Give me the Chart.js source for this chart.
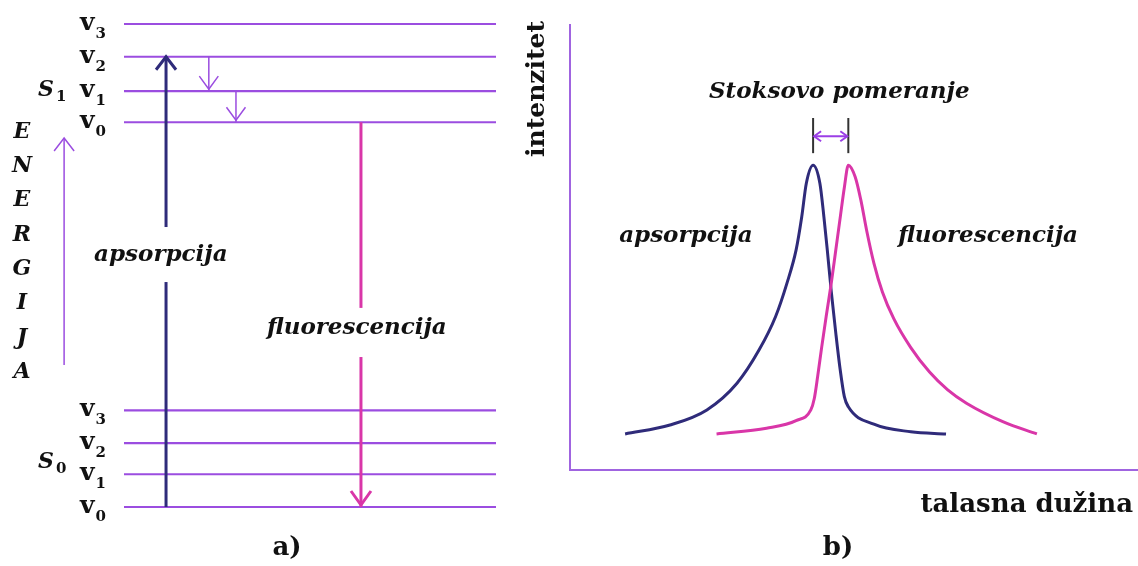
<!DOCTYPE html>
<html>
<head>
<meta charset="utf-8">
<script src="https://cdn.jsdelivr.net/npm/chart.js@4"></script>
<style>
  body { margin: 0; background: #fff; }
  #wrap { position: relative; width: 1138px; height: 566px; overflow: hidden; }
  canvas { position: absolute; top: 0; }
  #levels { left: 0; }
  #spectra { left: 500px; }
</style>
</head>
<body>
<div id="wrap">
  <canvas id="levels" width="510" height="566"></canvas>
  <canvas id="spectra" width="638" height="566"></canvas>
</div>
<script>
// ---- a) energy levels (arbitrary energy units) ----
const levelsS0 = [0, 1, 1.95, 2.95];
const levelsS1 = [11.75, 12.7, 13.75, 14.75];
const vibNames = ['0', '1', '2', '3'];
const energyLetters = ['E', 'N', 'E', 'R', 'G', 'I', 'J', 'A'];
// transitions: [from state, from v, to state, to v]
const absorption = [0, 0, 1, 2];
const relaxation = [[1, 2, 1, 1], [1, 1, 1, 0]];
const fluorescence = [1, 0, 0, 0];

// ---- b) spectra (wavelength / intensity, arbitrary units) ----
const absX = [9.7, 17.6, 24.1, 29.4, 33.3, 36.2, 38.2, 39.8, 40.8, 41.6, 42.8, 44.0, 44.7, 45.3, 46.0, 46.8, 47.5, 48.3, 49.0, 53.5, 60.0, 66.2];
const absY = [8.1, 10.1, 13.5, 19.5, 27.0, 34.5, 42.0, 49.4, 56.9, 64.4, 68.5, 64.4, 56.9, 49.4, 40.1, 30.7, 23.2, 16.5, 14.2, 10.3, 8.6, 8.1];
const fluX = [25.8, 34.6, 39.8, 42.4, 43.0, 43.6, 44.3, 45.1, 46.0, 46.8, 47.6, 48.3, 49.0, 50.2, 51.2, 52.2, 53.5, 55.0, 57.0, 60.0, 63.3, 66.5, 69.8, 76.3, 82.2];
const fluY = [8.1, 9.4, 11.1, 13.5, 16.0, 21.0, 27.5, 34.5, 42.0, 49.5, 57.0, 63.5, 68.5, 65.9, 60.7, 54.0, 46.5, 40.0, 34.0, 27.5, 22.0, 18.0, 15.0, 10.8, 8.1];

const PURPLE = '#9b4de0';
const AXIS = '#a064e0';
const NAVY = '#2f2b7a';
const MAGENTA = '#d936a8';
const INK = '#111';
const SERIF = '"DejaVu Serif", "Liberation Serif", serif';

const lvl = (s, v) => (s ? levelsS1[v] : levelsS0[v]);

// x positions of arrows/labels in diagram units (0..100 across the level lines)
const pos = { absX: 11.3, relaxX: [22.8, 30.1], fluX: 63.7, energyX: -16.1, energyFrom: 4.34, energyTo: 11.27 };

function chevron(ctx, x, y, dir, half, len) {
  // dir = 1: pointing down, -1: pointing up
  ctx.beginPath();
  ctx.moveTo(x - half, y - dir * len);
  ctx.lineTo(x, y);
  ctx.lineTo(x + half, y - dir * len);
  ctx.stroke();
}

const arrowSet = (x, y0, y1, color, w) => ({
  data: [{ x: x, y: y0 }, { x: x, y: y1 }],
  borderColor: color, borderWidth: w, clip: false
});

const levelDatasets = [
  arrowSet(pos.absX, lvl(absorption[0], absorption[1]), lvl(absorption[2], absorption[3]), NAVY, 3),
  arrowSet(pos.fluX, lvl(fluorescence[0], fluorescence[1]), lvl(fluorescence[2], fluorescence[3]), MAGENTA, 3),
  ...relaxation.map((r, i) => arrowSet(pos.relaxX[i], lvl(r[0], r[1]), lvl(r[2], r[3]), PURPLE, 1.5)),
  arrowSet(pos.energyX, pos.energyFrom, pos.energyTo, PURPLE, 1.5),
  ...[...levelsS0, ...levelsS1].map(e => ({
    data: [{ x: 0, y: e }, { x: 100, y: e }], borderColor: PURPLE, borderWidth: 2.2, clip: false
  }))
];

const levelsPlugin = {
  id: 'levelsDecor',
  afterDatasetsDraw(chart) {
    const { ctx, scales: { x, y } } = chart;
    const px = v => x.getPixelForValue(v), py = v => y.getPixelForValue(v);
    ctx.save();
    ctx.lineJoin = 'miter';
    ctx.lineCap = 'butt';

    // arrow heads
    ctx.strokeStyle = NAVY; ctx.lineWidth = 3;
    chevron(ctx, px(pos.absX), py(lvl(absorption[2], absorption[3])), -1, 10, 13);
    ctx.strokeStyle = MAGENTA;
    chevron(ctx, px(pos.fluX), py(lvl(fluorescence[2], fluorescence[3])) - 2, 1, 10, 14);
    ctx.strokeStyle = PURPLE; ctx.lineWidth = 1.5;
    relaxation.forEach((r, i) => chevron(ctx, px(pos.relaxX[i]), py(lvl(r[2], r[3])) - 2, 1, 9.5, 13));
    chevron(ctx, px(pos.energyX), py(pos.energyTo), -1, 10, 13);

    // labels cutting through the vertical arrows
    ctx.font = 'bold italic 23px ' + SERIF;
    ctx.textAlign = 'center'; ctx.textBaseline = 'middle';
    ctx.fillStyle = '#fff';
    ctx.fillRect(px(pos.absX) - 4, py(8.55), 8, py(6.87) - py(8.55));
    ctx.fillRect(px(pos.fluX) - 4, py(6.08), 8, py(4.58) - py(6.08));
    ctx.fillStyle = INK;
    ctx.fillText('apsorpcija', px(9.9), py(7.7));
    ctx.fillText('fluorescencija', px(62.6), py(5.47));

    // vibrational level names
    [levelsS0, levelsS1].forEach(levels => levels.forEach((e, i) => {
      const yy = py(e);
      ctx.textAlign = 'right'; ctx.textBaseline = 'alphabetic';
      ctx.font = 'bold 15px ' + SERIF;
      ctx.fillText(vibNames[i], 106, yy + 14);
      const w = ctx.measureText(vibNames[i]).width;
      ctx.font = 'bold 25px ' + SERIF;
      ctx.fillText('v', 106 - w - 1, yy + 6);
    }));

    // electronic state names
    [[0, py(levelsS0[1]) - 6], [1, py(levelsS1[1]) + 5]].forEach(([s, base]) => {
      ctx.textAlign = 'left';
      ctx.font = 'bold italic 22px ' + SERIF;
      ctx.fillText('S', 38, base);
      const w = ctx.measureText('S').width;
      ctx.font = 'bold 15px ' + SERIF;
      ctx.fillText(String(s), 38 + w + 2, base + 5);
    });

    // ENERGIJA
    ctx.font = 'bold italic 22px ' + SERIF;
    ctx.textAlign = 'center'; ctx.textBaseline = 'middle';
    energyLetters.forEach((ch, i) => ctx.fillText(ch, 22, 132 + i * 34.3));

    ctx.font = 'bold 26px ' + SERIF;
    ctx.fillText('a)', 287, 548);
    ctx.restore();
  }
};

new Chart(document.getElementById('levels'), {
  type: 'scatter',
  data: { datasets: levelDatasets },
  options: {
    responsive: false,
    animation: false,
    showLine: true,
    elements: { point: { radius: 0, hoverRadius: 0 } },
    layout: { padding: { left: 124, right: 14, top: 24, bottom: 59 } },
    plugins: { legend: { display: false }, tooltip: { enabled: false } },
    scales: {
      x: { type: 'linear', display: false, min: 0, max: 100 },
      y: { type: 'linear', display: false, min: 0, max: 14.75 }
    }
  },
  plugins: [levelsPlugin]
});

// ---- b) ----
const peakX = (xs, ys) => xs[ys.indexOf(Math.max(...ys))];

const spectraPlugin = {
  id: 'spectraDecor',
  afterDatasetsDraw(chart) {
    const { ctx, scales: { x, y } } = chart;
    const px = v => x.getPixelForValue(v), py = v => y.getPixelForValue(v);
    ctx.save();
    ctx.fillStyle = INK;

    // Stokes shift marker
    const a = px(peakX(absX, absY)), f = px(peakX(fluX, fluY));
    ctx.strokeStyle = '#333'; ctx.lineWidth = 2;
    [a, f].forEach(xx => {
      ctx.beginPath(); ctx.moveTo(xx, py(79.1)); ctx.lineTo(xx, py(71.2)); ctx.stroke();
    });
    const ya = py(75);
    ctx.strokeStyle = '#9b3fe6'; ctx.lineWidth = 2;
    ctx.beginPath(); ctx.moveTo(a + 1, ya); ctx.lineTo(f - 1, ya); ctx.stroke();
    ctx.beginPath();
    ctx.moveTo(a + 8, ya - 5); ctx.lineTo(a + 1, ya); ctx.lineTo(a + 8, ya + 5);
    ctx.moveTo(f - 8, ya - 5); ctx.lineTo(f - 1, ya); ctx.lineTo(f - 8, ya + 5);
    ctx.stroke();

    ctx.textAlign = 'center'; ctx.textBaseline = 'middle';
    ctx.font = 'bold italic 23px ' + SERIF;
    ctx.fillText('Stoksovo pomeranje', px(47.4), py(85));
    ctx.fillText('apsorpcija', px(20.4), py(52.6));
    ctx.fillText('fluorescencija', px(73.6), py(52.6));

    // axis titles
    ctx.font = 'bold 25px ' + SERIF;
    ctx.save();
    ctx.translate(37, 89);
    ctx.rotate(-Math.PI / 2);
    ctx.fillText('intenzitet', 0, 0);
    ctx.restore();
    ctx.textAlign = 'right';
    ctx.font = 'bold 26px ' + SERIF;
    ctx.fillText('talasna dužina', 633, 505);

    ctx.textAlign = 'center';
    ctx.font = 'bold 26px ' + SERIF;
    ctx.fillText('b)', 338, 548);
    ctx.restore();
  }
};

new Chart(document.getElementById('spectra'), {
  type: 'line',
  data: {
    datasets: [
      { label: 'fluorescencija', data: fluX.map((v, i) => ({ x: v, y: fluY[i] })), borderColor: MAGENTA },
      { label: 'apsorpcija', data: absX.map((v, i) => ({ x: v, y: absY[i] })), borderColor: NAVY }
    ]
  },
  options: {
    responsive: false,
    animation: false,
    elements: {
      point: { radius: 0, hoverRadius: 0 },
      line: { borderWidth: 3, cubicInterpolationMode: 'monotone' }
    },
    layout: { padding: { left: 70, right: 0, top: 25, bottom: 96 } },
    plugins: { legend: { display: false }, tooltip: { enabled: false } },
    scales: {
      x: {
        type: 'linear', min: 0, max: 100,
        ticks: { display: false },
        grid: { display: false, drawTicks: false },
        border: { display: true, color: AXIS, width: 2 }
      },
      y: {
        min: 0, max: 100,
        ticks: { display: false },
        grid: { display: false, drawTicks: false },
        border: { display: true, color: AXIS, width: 2 }
      }
    }
  },
  plugins: [spectraPlugin]
});
</script>
</body>
</html>
